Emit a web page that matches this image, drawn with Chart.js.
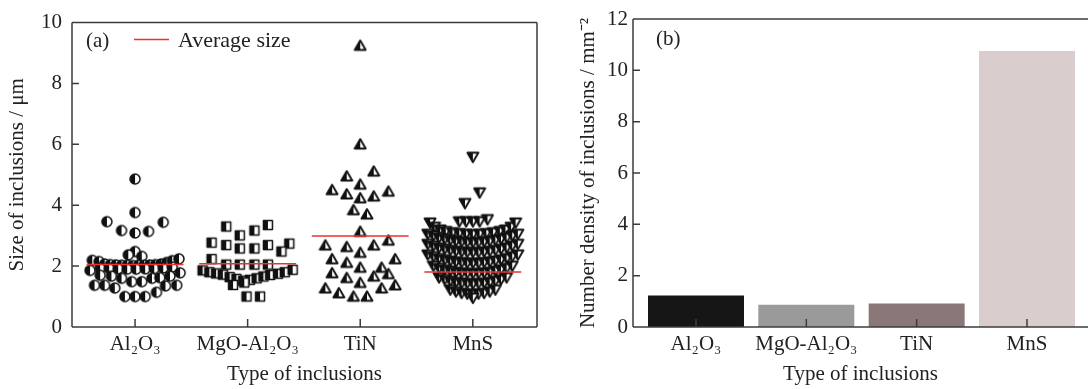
<!DOCTYPE html>
<html>
<head>
<meta charset="utf-8">
<script src="https://cdn.jsdelivr.net/npm/chart.js@4.4.1/dist/chart.umd.min.js"></script>
<style>
  body { margin: 0; background: #fff; }
  #wrap { position: relative; width: 1088px; height: 389px; }
  canvas { position: absolute; top: 0; }
  #sizeChart { left: 0; }
  #densityChart { left: 560px; }
</style>
</head>
<body>
<div id="wrap">
  <canvas id="sizeChart" width="560" height="389"></canvas>
  <canvas id="densityChart" width="528" height="389"></canvas>
</div>
<script>
const inclusionTypes = ['Al₂O₃', 'MgO-Al₂O₃', 'TiN', 'MnS'];

// each point: [offset from the category centre, size in μm]
const al2o3Sizes = [
  [0, 4.86], [0, 3.76], [-0.25, 3.46], [0.25, 3.44], [-0.12, 3.17], [0, 3.09], [0.12, 3.14],
  [0, 2.48], [-0.06, 2.37], [0.06, 2.32],
  [-0.38, 2.19], [-0.32, 2.15], [-0.27, 2.07], [-0.22, 2.05], [-0.17, 2.04], [-0.12, 2.03], [-0.07, 2.03],
  [-0.02, 2.02], [0.03, 2.03], [0.08, 2.03], [0.13, 2.04], [0.18, 2.05], [0.23, 2.07], [0.28, 2.12], [0.33, 2.18], [0.39, 2.24],
  [-0.40, 1.86], [-0.31, 1.93], [-0.23, 1.92], [-0.15, 1.91], [-0.07, 1.90], [0.01, 1.90], [0.09, 1.91], [0.17, 1.92], [0.25, 1.94], [0.33, 1.97],
  [-0.31, 1.70], [-0.21, 1.67], [-0.12, 1.60], [-0.03, 1.49], [0.06, 1.49], [0.15, 1.60], [0.22, 1.62], [0.31, 1.67], [0.40, 1.78],
  [-0.36, 1.37], [-0.27, 1.37], [-0.18, 1.28], [0.19, 1.14], [0.27, 1.35], [0.37, 1.37],
  [-0.09, 1.00], [0, 1.00], [0.09, 1.00]
];
const mgoSizes = [
  [-0.19, 3.30], [0.06, 3.17], [0.18, 3.35], [-0.07, 3.01],
  [-0.32, 2.77], [-0.19, 2.69], [-0.07, 2.58], [0.06, 2.58], [0.18, 2.69], [0.37, 2.74], [0.30, 2.48],
  [-0.32, 2.23], [-0.19, 2.05], [-0.07, 2.05], [0.06, 2.05], [0.18, 2.05],
  [-0.40, 1.86], [-0.34, 1.80], [-0.28, 1.76], [-0.22, 1.72], [-0.16, 1.64], [-0.10, 1.58], [-0.04, 1.52],
  [0.02, 1.55], [0.08, 1.60], [0.14, 1.66], [0.20, 1.71], [0.27, 1.75], [0.33, 1.80], [0.40, 1.88],
  [-0.13, 1.38], [-0.03, 1.46], [-0.01, 1.00], [0.11, 1.00]
];
const tinSizes = [
  [0, 9.25], [0, 6.01], [0.12, 5.12], [-0.12, 4.96], [0, 4.69], [-0.25, 4.51], [-0.12, 4.37], [0, 4.24],
  [0.12, 4.30], [0.25, 4.46], [-0.06, 3.85], [0.06, 3.71], [0, 3.14],
  [-0.31, 2.69], [-0.12, 2.64], [0, 2.45], [0.12, 2.69], [0.25, 2.85],
  [-0.25, 2.24], [-0.12, 2.12], [0, 1.96], [0.31, 2.24], [0.19, 1.96],
  [-0.25, 1.78], [-0.12, 1.62], [0, 1.46], [0.12, 1.67], [0.25, 1.75],
  [-0.31, 1.28], [-0.19, 1.12], [-0.06, 1.01], [0.06, 1.01], [0.19, 1.28], [0.31, 1.38]
];
const mnsSizes = [
  [0, 5.58], [0.06, 4.41], [-0.07, 4.06],
  [-0.12, 3.46], [-0.06, 3.46], [0, 3.46], [0.06, 3.46], [0.13, 3.53],
  [-0.38, 3.42], [-0.34, 3.28], [-0.29, 3.19], [-0.24, 3.14], [-0.18, 3.10], [-0.12, 3.07], [-0.06, 3.05], [0, 3.04],
  [0.06, 3.05], [0.12, 3.07], [0.18, 3.10], [0.24, 3.14], [0.29, 3.19], [0.34, 3.28], [0.38, 3.42],
  [-0.40, 3.05], [-0.35, 2.99], [-0.30, 2.93], [-0.25, 2.89], [-0.20, 2.85], [-0.15, 2.82], [-0.10, 2.80], [-0.05, 2.78], [0, 2.78],
  [0.05, 2.78], [0.10, 2.80], [0.15, 2.82], [0.20, 2.85], [0.25, 2.89], [0.30, 2.93], [0.35, 2.99], [0.40, 3.05],
  [-0.40, 2.72], [-0.35, 2.66], [-0.30, 2.60], [-0.25, 2.56], [-0.20, 2.52], [-0.15, 2.49], [-0.10, 2.47], [-0.05, 2.45], [0, 2.45],
  [0.05, 2.45], [0.10, 2.47], [0.15, 2.49], [0.20, 2.52], [0.25, 2.56], [0.30, 2.60], [0.35, 2.66], [0.40, 2.72],
  [-0.40, 2.37], [-0.35, 2.31], [-0.30, 2.25], [-0.25, 2.21], [-0.20, 2.17], [-0.15, 2.14], [-0.10, 2.12], [-0.05, 2.10], [0, 2.10],
  [0.05, 2.10], [0.10, 2.12], [0.15, 2.14], [0.20, 2.17], [0.25, 2.21], [0.30, 2.25], [0.35, 2.31], [0.40, 2.37],
  [-0.35, 2.00], [-0.30, 1.93], [-0.25, 1.88], [-0.20, 1.84], [-0.15, 1.80], [-0.10, 1.78], [-0.05, 1.76], [0, 1.76],
  [0.05, 1.76], [0.10, 1.78], [0.15, 1.80], [0.20, 1.84], [0.25, 1.88], [0.30, 1.93], [0.35, 2.00],
  [-0.30, 1.62], [-0.25, 1.56], [-0.20, 1.51], [-0.15, 1.47], [-0.10, 1.44], [-0.05, 1.43], [0, 1.42],
  [0.05, 1.43], [0.10, 1.44], [0.15, 1.47], [0.20, 1.51], [0.25, 1.56], [0.30, 1.62],
  [-0.20, 1.22], [-0.15, 1.16], [-0.10, 1.11], [-0.05, 1.09], [0, 1.08], [0.05, 1.09], [0.10, 1.11], [0.15, 1.16], [0.20, 1.22],
  [0, 0.95]
];
const averageSizes = [2.05, 2.08, 2.99, 1.81];
const densityValues = [1.23, 0.87, 0.92, 10.75];
const sizeTicks = [0, 2, 4, 6, 8, 10];
const densityTicks = [0, 2, 4, 6, 8, 10, 12];

const barColours = ['#161616', '#9a9a9a', '#8a7878', '#dacdcd'];
const ink = '#222';
const axisColour = '#3c3c3c';
const serif = "'Liberation Serif', 'Times New Roman', serif";

Chart.defaults.font.family = serif;
Chart.defaults.font.size = 21;
Chart.defaults.color = ink;

// half filled markers, left half black
function makeMarker(shape) {
  const s = 14, m = 7;
  const c = document.createElement('canvas');
  c.width = s; c.height = s;
  const g = c.getContext('2d');
  g.beginPath();
  if (shape === 'circle') g.arc(m, m, 5, 0, Math.PI * 2);
  else if (shape === 'square') g.rect(m - 4.5, m - 4.5, 9, 9);
  else if (shape === 'up') { g.moveTo(m, m - 5); g.lineTo(m + 5.5, m + 4.5); g.lineTo(m - 5.5, m + 4.5); g.closePath(); }
  else { g.moveTo(m - 5.5, m - 4.5); g.lineTo(m + 5.5, m - 4.5); g.lineTo(m, m + 5); g.closePath(); }
  g.fillStyle = '#fff';
  g.fill();
  g.save();
  g.clip();
  g.fillStyle = '#111';
  g.fillRect(0, 0, m, s);
  g.restore();
  g.lineWidth = (shape === 'up' || shape === 'down') ? 1.9 : 1.5;
  g.lineJoin = 'round';
  g.strokeStyle = '#111';
  g.stroke();
  return c;
}
const markers = [makeMarker('circle'), makeMarker('square'), makeMarker('up'), makeMarker('down')];

function setTicks(values) {
  return s => { s.ticks = values.map(v => ({ value: v })); };
}

// frame with inward tick marks
function framePlugin(id, yTicks, drawRight, extra) {
  return {
    id: id,
    afterDraw(chart) {
      const { ctx, chartArea: a, scales } = chart;
      ctx.save();
      ctx.strokeStyle = axisColour;
      ctx.lineWidth = 1.5;
      ctx.beginPath();
      ctx.moveTo(a.left, a.top); ctx.lineTo(a.left, a.bottom);
      ctx.moveTo(a.left, a.top); ctx.lineTo(a.right, a.top);
      ctx.moveTo(a.left, a.bottom); ctx.lineTo(a.right, a.bottom);
      if (drawRight) { ctx.moveTo(a.right, a.top); ctx.lineTo(a.right, a.bottom); }
      yTicks.forEach(v => {
        const py = scales.y.getPixelForValue(v);
        ctx.moveTo(a.left, py); ctx.lineTo(a.left + 7, py);
      });
      [1, 2, 3, 4].forEach(v => {
        const px = scales.x.getPixelForValue(v);
        ctx.moveTo(px, a.bottom); ctx.lineTo(px, a.bottom - 8);
      });
      ctx.stroke();
      if (extra) extra(ctx);
      ctx.restore();
    }
  };
}

const categoryAxis = (min, max, title) => ({
  type: 'linear', min: min, max: max, offset: false,
  afterBuildTicks: setTicks([1, 2, 3, 4]),
  ticks: { callback: v => inclusionTypes[v - 1], autoSkip: false, maxRotation: 0, padding: 5 },
  grid: { display: false, drawTicks: false },
  border: { display: false },
  title: { display: true, text: title, padding: { top: 0, bottom: 2 } },
  afterFit: s => { s.height = 62; }
});

const pointSets = [al2o3Sizes, mgoSizes, tinSizes, mnsSizes].map((pts, i) => ({
  data: pts.map(([dx, y]) => ({ x: i + 1 + dx, y: y })),
  pointStyle: markers[i],
  pointRadius: 5,
  order: 1
}));
const meanSets = averageSizes.map((m, i) => ({
  data: [{ x: i + 1 - 0.43, y: m }, { x: i + 1 + 0.43, y: m }],
  showLine: true,
  borderColor: '#e8332e',
  borderWidth: 1.5,
  pointRadius: 0,
  order: 0
}));

new Chart(document.getElementById('sizeChart'), {
  type: 'scatter',
  data: { datasets: meanSets.concat(pointSets) },
  options: {
    responsive: false,
    animation: false,
    events: [],
    layout: { padding: { top: 16, right: 23, left: 0, bottom: 0 } },
    plugins: { legend: { display: false }, tooltip: { enabled: false } },
    scales: {
      x: categoryAxis(0.44, 4.57, 'Type of inclusions'),
      y: {
        min: 0, max: 10,
        afterBuildTicks: setTicks(sizeTicks),
        ticks: { padding: 10 },
        grid: { display: false, drawTicks: false },
        border: { display: false },
        title: { display: true, text: 'Size of inclusions / μm', padding: { top: 5, bottom: 0 } },
        afterFit: s => { s.width = 72; }
      }
    }
  },
  plugins: [framePlugin('frameA', sizeTicks, true, ctx => {
    ctx.fillStyle = ink;
    ctx.font = '21px ' + serif;
    ctx.textBaseline = 'alphabetic';
    ctx.fillText('(a)', 86, 47);
    ctx.font = '22px ' + serif;
    ctx.fillText('Average size', 178, 47);
    ctx.strokeStyle = '#e8332e';
    ctx.lineWidth = 1.5;
    ctx.beginPath();
    ctx.moveTo(134, 39.5); ctx.lineTo(169, 39.5);
    ctx.stroke();
  })]
});

new Chart(document.getElementById('densityChart'), {
  type: 'bar',
  data: {
    datasets: [{
      data: densityValues.map((v, i) => ({ x: i + 1, y: v })),
      backgroundColor: barColours,
      barPercentage: 0.87,
      categoryPercentage: 1
    }]
  },
  options: {
    responsive: false,
    animation: false,
    events: [],
    layout: { padding: { top: 19, right: 0, left: 0, bottom: 0 } },
    plugins: { legend: { display: false }, tooltip: { enabled: false } },
    scales: {
      x: categoryAxis(0.429, 4.553, 'Type of inclusions'),
      y: {
        min: 0, max: 12,
        afterBuildTicks: setTicks(densityTicks),
        ticks: { padding: 5 },
        grid: { display: false, drawTicks: false },
        border: { display: false },
        title: { display: true, text: 'Number density of inclusions / mm⁻²', padding: { top: 16, bottom: 0 } },
        afterFit: s => { s.width = 73; }
      }
    }
  },
  plugins: [framePlugin('frameB', densityTicks, false, ctx => {
    ctx.fillStyle = ink;
    ctx.font = '21px ' + serif;
    ctx.textBaseline = 'alphabetic';
    ctx.fillText('(b)', 96, 45);
  })]
});
</script>
</body>
</html>
